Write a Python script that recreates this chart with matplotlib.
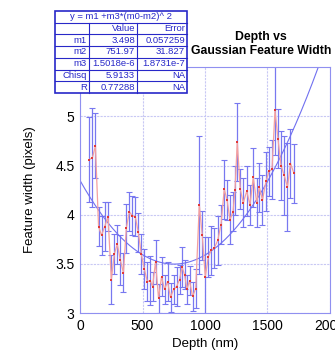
import numpy as np
import matplotlib.pyplot as plt
from matplotlib.lines import Line2D
from matplotlib.patches import Rectangle

plt.rcParams['font.family'] = ['Liberation Sans', 'DejaVu Sans']

# ------------------------------------------------------------
# Data
# ------------------------------------------------------------
depth = [75, 99, 123, 148, 172, 197, 224, 250, 274, 298, 322, 347, 370, 394,
         418, 442, 466, 490, 514, 538, 562, 580, 604, 628, 652, 676, 700, 724,
         748, 772, 796, 816, 836, 856, 876, 900, 926, 954, 978, 1002, 1026,
         1050, 1074, 1102, 1128, 1154, 1176, 1200, 1224, 1240, 1258, 1282,
         1306, 1334, 1360, 1386, 1414, 1434, 1460, 1488, 1512, 1536, 1560,
         1584, 1608, 1634, 1660, 1684, 1712]
width = [4.56, 4.58, 4.70, 3.88, 3.79, 3.88, 3.98, 3.34, 3.60, 3.70, 3.54,
         3.41, 3.86, 4.03, 3.99, 3.98, 3.82, 3.60, 3.45, 3.32, 3.33, 3.27,
         3.52, 3.15, 3.37, 3.24, 3.32, 3.16, 3.24, 3.27, 3.34, 3.47, 3.39,
         3.24, 3.33, 3.17, 3.25, 4.10, 3.79, 3.37, 3.57, 3.64, 3.66, 3.74,
         3.90, 4.26, 4.15, 3.95, 4.03, 4.25, 4.74, 4.26, 4.12, 4.24, 4.10,
         4.38, 4.12, 4.28, 4.15, 4.34, 4.44, 4.46, 5.06, 4.77, 4.50, 4.40,
         4.28, 4.52, 4.42]
err = [0.43, 0.50, 0.33, 0.20, 0.20, 0.25, 0.15, 0.25, 0.20, 0.20, 0.25,
       0.20, 0.25, 0.20, 0.20, 0.20, 0.20, 0.20, 0.20, 0.20, 0.25, 0.15,
       0.22, 0.15, 0.20, 0.15, 0.20, 0.15, 0.15, 0.20, 0.15, 0.20, 0.15,
       0.15, 0.15, 0.15, 0.20, 0.70, 0.25, 0.40, 0.20, 0.25, 0.20, 0.25,
       0.20, 0.30, 0.20, 0.25, 0.20, 0.25, 0.40, 0.20, 0.25, 0.25, 0.20,
       0.30, 0.25, 0.25, 0.25, 0.30, 0.25, 0.30, 0.45, 0.30, 0.35, 0.40,
       0.45, 0.35, 0.30]

# fit: y = m1 + m3*(x - m2)^2
m1, m2, m3 = 3.498, 751.97, 1.5018e-6
fit_rows = [['m1', '3.498', '0.057259'],
            ['m2', '751.97', '31.827'],
            ['m3', '1.5018e-6', '1.8731e-7'],
            ['Chisq', '5.9133', 'NA'],
            ['R', '0.77288', 'NA']]

# ------------------------------------------------------------
# Plot
# ------------------------------------------------------------
fig = plt.figure(figsize=(3.35, 3.55), dpi=100)
ax = fig.add_axes([0.239, 0.118, 0.746, 0.693])

ax.errorbar(depth, width, yerr=err, fmt='none', ecolor='#7878f0',
            elinewidth=0.9, capsize=2, capthick=0.8, zorder=2)
ax.plot(depth, width, '-', color='#f4a0a0', lw=0.9, zorder=3)
ax.plot(depth, width, 's', color='#e03838', ms=2.0, mew=0, zorder=4)

xf = np.linspace(0, 2000, 400)
ax.plot(xf, m1 + m3 * (xf - m2) ** 2, color='#7070f0', lw=0.8, zorder=2)

ax.set_xlim(0, 2000)
ax.set_ylim(3, 5.5)
ax.set_xticks([0, 500, 1000, 1500, 2000])
ax.set_yticks([3, 3.5, 4, 4.5, 5])
ax.set_yticklabels(['3', '3.5', '4', '4.5', '5'])
ax.tick_params(length=0, labelsize=10, pad=4)
ax.grid(True, color='#c8c8f4', lw=0.8, ls=(0, (2, 1)))
for s in ax.spines.values():
    s.set_color('#9090f0')
    s.set_linewidth(0.8)

ax.set_xlabel('Depth (nm)', fontsize=9.5, labelpad=4)
ax.set_ylabel('Feature width (pixels)', fontsize=9.5, labelpad=14)

fig.text(0.78, 0.877, 'Depth vs\nGaussian Feature Width', ha='center',
         va='center', fontsize=8.8, fontweight='bold', linespacing=1.2)

# fit parameter table
tc = '#2828c8'
x0, x1, x2, x3 = 55, 89, 137, 187
ytop, rh = 11, 11.7
W, H = 335.0, 355.0
nrows = 2 + len(fit_rows)
fig.patches.append(Rectangle((x0 / W, 1 - (ytop + nrows * rh) / H),
                             (x3 - x0) / W, nrows * rh / H,
                             transform=fig.transFigure, fc='white',
                             ec=tc, lw=1.2, zorder=5))
for i in range(1, nrows):
    yy = 1 - (ytop + i * rh) / H
    fig.add_artist(Line2D([x0 / W, x3 / W], [yy, yy], color=tc, lw=0.8,
                          zorder=6))
for xc in (x1, x2):
    fig.add_artist(Line2D([xc / W, xc / W],
                          [1 - (ytop + rh) / H, 1 - (ytop + nrows * rh) / H],
                          color=tc, lw=0.8, zorder=6))
fs = 6.8
fig.text((x0 + x3) / 2 / W, 1 - (ytop + 0.5 * rh) / H,
         'y = m1 +m3*(m0-m2)^ 2', ha='center', va='center', fontsize=fs,
         color=tc, zorder=7)
header = ['', 'Value', 'Error']
rows = [header] + fit_rows
for r, row in enumerate(rows):
    yy = 1 - (ytop + (r + 1.5) * rh) / H
    fig.text((x1 - 2) / W, yy, row[0], ha='right', va='center', fontsize=fs,
             color=tc, zorder=7)
    fig.text((x2 - 2) / W, yy, row[1], ha='right', va='center', fontsize=fs,
             color=tc, zorder=7)
    fig.text((x3 - 2) / W, yy, row[2], ha='right', va='center', fontsize=fs,
             color=tc, zorder=7)

fig.savefig('out.png', dpi=100)
